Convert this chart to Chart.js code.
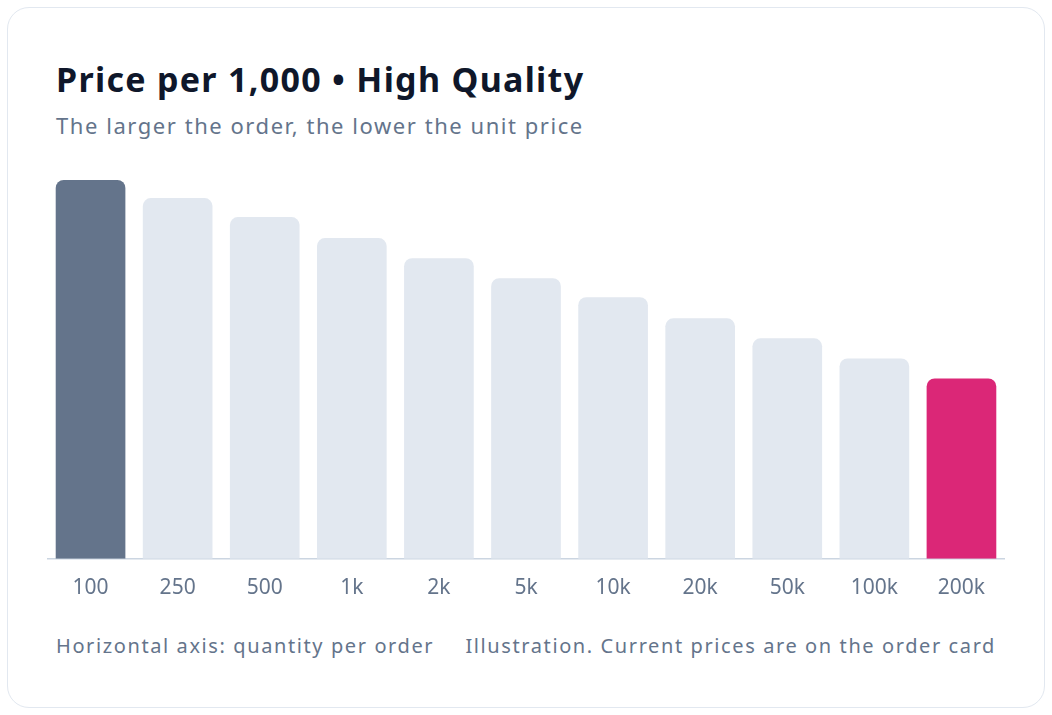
<!DOCTYPE html>
<html><head><meta charset="utf-8">
<script src="https://cdn.jsdelivr.net/npm/chart.js@4"></script>
<style>
body{margin:0;background:#fff;font-family:"Noto Sans",sans-serif;}
.card{position:absolute;left:7px;top:7px;width:1036px;height:699px;border:1.5px solid #e2e8f0;border-radius:22px;background:#fff;}
h1{position:absolute;left:56px;top:56px;margin:0;font-size:34px;font-weight:700;color:#0f172a;letter-spacing:1.3px;}
.sub{position:absolute;left:56px;top:110px;font-size:22px;color:#64748b;letter-spacing:1.55px;}
.f{position:absolute;top:632px;font-size:20px;color:#64748b;letter-spacing:1.6px;}
#w{position:absolute;left:47px;top:160px;width:958px;height:450px;}
</style></head><body>
<div class="card"></div>
<h1>Price per 1,000 • High Quality</h1>
<div class="sub">The larger the order, the lower the unit price</div>
<div id="w"><canvas id="c"></canvas></div>
<div class="f" style="left:56px">Horizontal axis: quantity per order</div>
<div class="f" style="right:56px">Illustration. Current prices are on the order card</div>
<script>
const categories=["100","250","500","1k","2k","5k","10k","20k","50k","100k","200k"];
const values=[378,360,341,320,300,280,261,240,220,200,180];
const colors=categories.map((c,i)=>i===0?"#64748b":i===categories.length-1?"#db2777":"#e2e8f0");
new Chart(document.getElementById('c'),{type:'bar',
data:{labels:categories,datasets:[{data:values,backgroundColor:colors,borderRadius:{topLeft:8,topRight:8},borderSkipped:'bottom',barPercentage:0.80,categoryPercentage:1}]},
options:{responsive:true,maintainAspectRatio:false,animation:false,
layout:{padding:{top:20}},
plugins:{legend:{display:false},tooltip:{enabled:false}},
scales:{y:{display:false,min:0,max:378},
x:{grid:{display:false},border:{color:'#cbd5e1',width:1.5},ticks:{color:'#64748b',font:{family:'Noto Sans',size:21},padding:9}}}}});
</script></body></html>
